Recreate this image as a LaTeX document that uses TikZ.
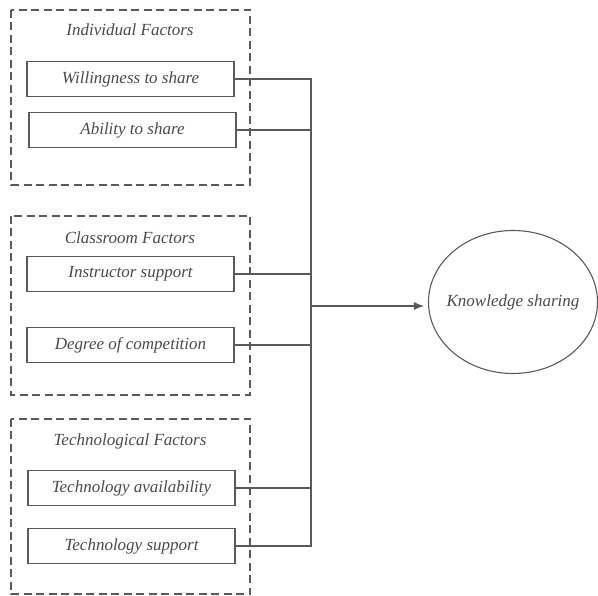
\documentclass[tikz,border=0pt]{standalone}
\usepackage{fontspec}
\setmainfont{Liberation Serif}
\usetikzlibrary{shapes.geometric,arrows.meta}
\definecolor{ink}{HTML}{5A5A5A}
\definecolor{txt}{HTML}{4A4A4A}
\begin{document}
\begin{tikzpicture}[x=1pt,y=-1pt,
  group/.style={draw=ink,dashed,dash pattern=on 8pt off 4.5pt,line width=1.1pt},
  factor/.style={draw=ink,line width=1.1pt,minimum width=207pt,minimum height=35pt,inner sep=0pt,
    font=\fontsize{17}{20}\selectfont\itshape,text=txt},
  title/.style={font=\fontsize{17}{20}\selectfont\itshape,text=txt},
  wire/.style={draw=ink,line width=1.1pt},
  outcome/.style={ellipse,draw=ink,line width=1.1pt,minimum width=169pt,minimum height=143pt,inner sep=0pt,
    font=\fontsize{17}{20}\selectfont\itshape,text=txt}]
\useasboundingbox (0,0) rectangle (598,596);
% factor groups
\draw[group] (11,10) rectangle (250,185);
\draw[group] (11,216) rectangle (250,395);
\draw[group] (11,419) rectangle (250,594);
\node[title] (g1) at (130,30) {Individual Factors};
\node[title] (g2) at (130,238) {Classroom Factors};
\node[title] (g3) at (130,441) {Technological Factors};
% factors
\node[factor] (f1) at (130.5,79) {Willingness to share};
\node[factor] (f2) at (132.5,130) {Ability to share};
\node[factor] (f3) at (130.5,274) {Instructor support};
\node[factor] (f4) at (130.5,345) {Degree of competition};
\node[factor] (f5) at (131.5,488) {Technology availability};
\node[factor] (f6) at (131.5,546) {Technology support};
% outcome (zero-width text box so the ellipse keeps its own size)
\node[outcome] (ks) at (513,302) {\makebox[0pt]{Knowledge sharing}};
% bus
\coordinate (top) at (311,79);
\coordinate (bot) at (311,546);
\coordinate (mid) at (311,306);
\draw[wire] (f1.east) -- (top) -- (bot) -- (f6.east);
\foreach \f in {f2,f3,f4,f5}{\draw[wire] (\f.east) -- (\f.east -| top);}
\draw[wire,shorten >=4pt,-{Latex[length=10pt,width=8pt]}] (mid) -- (mid -| ks.west);
\end{tikzpicture}
\end{document}
